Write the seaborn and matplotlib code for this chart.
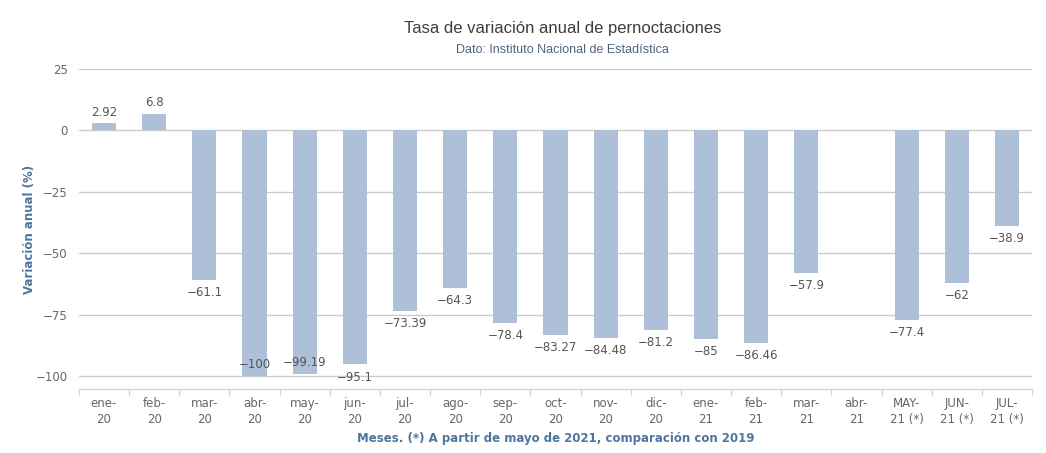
import numpy as np
import pandas as pd
import matplotlib.pyplot as plt
import seaborn as sns

months = ["ene-\n20", "feb-\n20", "mar-\n20", "abr-\n20", "may-\n20", "jun-\n20",
          "jul-\n20", "ago-\n20", "sep-\n20", "oct-\n20", "nov-\n20", "dic-\n20",
          "ene-\n21", "feb-\n21", "mar-\n21", "abr-\n21", "MAY-\n21 (*)",
          "JUN-\n21 (*)", "JUL-\n21 (*)"]
variacion = [2.92, 6.8, -61.1, -100, -99.19, -95.1, -73.39, -64.3, -78.4, -83.27,
             -84.48, -81.2, -85, -86.46, -57.9, np.nan, -77.4, -62, -38.9]
yticks = [25, 0, -25, -50, -75, -100]

df = pd.DataFrame({"mes": months, "valor": variacion})

sns.set_style("white")
plt.rcParams["font.family"] = ["DejaVu Sans"]

fig = plt.figure(figsize=(10.46, 4.53), dpi=100)
ax = fig.add_axes([0.0755, 0.1413, 0.9111, 0.7064])

bar_color = "#adc0d7"
sns.barplot(data=df, x="mes", y="valor", color=bar_color, width=0.48,
            saturation=1, linewidth=0, ax=ax, zorder=3)

ax.set_ylim(-105.3, 25)
ax.set_xlim(-0.5, len(months) - 0.5)
ax.set_yticks(yticks)
ax.set_yticklabels([str(t).replace("-", "\u2212") for t in yticks])
for t in yticks:
    ax.axhline(t, color="#cccccc", lw=1, zorder=1)

for s in ["top", "right", "left"]:
    ax.spines[s].set_visible(False)
ax.spines["bottom"].set_color("#ccd6eb")
ax.spines["bottom"].set_linewidth(1)

ax.tick_params(axis="y", length=0, labelsize=8.5, labelcolor="#666666", pad=8)
ax.tick_params(axis="x", length=0, labelsize=8.5, labelcolor="#666666", pad=6)
for lab in ax.get_xticklabels():
    lab.set_linespacing(1.3)

# tick marks between categories
for b in np.arange(-0.5, len(months), 1.0):
    ax.plot([b, b], [0, -0.02], transform=ax.get_xaxis_transform(),
            color="#ccd6eb", lw=1, clip_on=False)

# data labels (Highcharts-like: pushed inside when they would leave the plot)
for i, v in enumerate(variacion):
    if np.isnan(v):
        continue
    txt = f"{v:g}".replace("-", "\u2212")
    if v >= 0 or v < -97:
        off = 8
    elif v < -94:
        off = -10
    else:
        off = -9
    ax.annotate(txt, (i, v), xytext=(0, off), textcoords="offset points",
                ha="center", va="center", fontsize=8.5, color="#555555", zorder=4)

ax.set_xlabel("Meses. (*) A partir de mayo de 2021, comparación con 2019",
              fontsize=8.5, fontweight="bold", color="#4d759e", labelpad=4)
ax.set_ylabel("Variación anual (%)", fontsize=8.5, fontweight="bold",
              color="#4d759e")
ax.yaxis.set_label_coords(-0.045, 0.5)

fig.text(0.538, 0.937, "Tasa de variación anual de pernoctaciones",
         ha="center", va="center", fontsize=12, color="#3d3d3d",
         family="Liberation Sans")
fig.text(0.538, 0.89, "Dato: Instituto Nacional de Estadística",
         ha="center", va="center", fontsize=9, color="#4d6580",
         family="Liberation Sans")

plt.savefig("out.png", dpi=100)
plt.close()
